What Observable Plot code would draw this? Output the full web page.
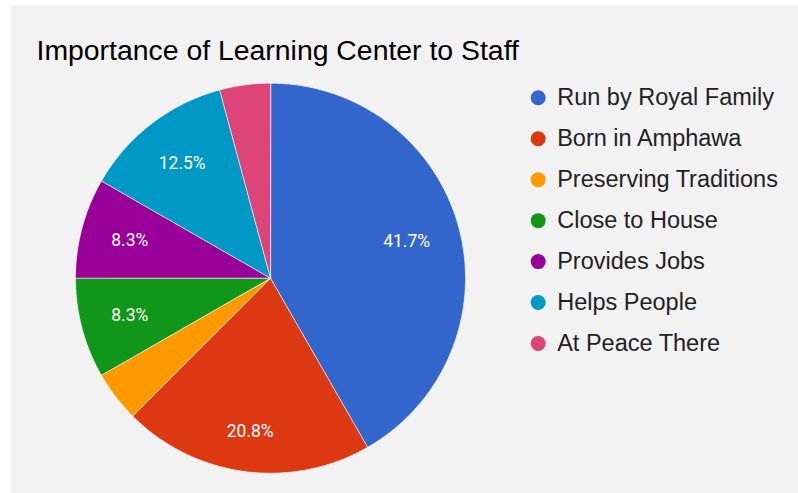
<!DOCTYPE html>
<html>
<head>
<meta charset="utf-8">
<script src="https://cdn.jsdelivr.net/npm/d3@7"></script>
<script src="https://cdn.jsdelivr.net/npm/@observablehq/plot@0.6"></script>
<style>
  html, body { margin: 0; padding: 0; background: #ffffff; }
  #wrap { position: relative; width: 798px; height: 493px; overflow: hidden; background: #ffffff; }
  #chart { position: absolute; left: 11px; top: 5px; width: 787px; height: 488px; background: #f2f2f2; }
  #chart svg { display: block; background: transparent; }
</style>
</head>
<body>
<div id="wrap"><div id="chart"></div></div>
<script>
// ---- data ----
const title = "Importance of Learning Center to Staff";
const categories = ["Run by Royal Family", "Born in Amphawa", "Preserving Traditions", "Close to House", "Provides Jobs", "Helps People", "At Peace There"];
const percents = [41.7, 20.8, 4.2, 8.3, 8.3, 12.5, 4.2];
const colors = ["#3366cc", "#dc3912", "#ff9900", "#109618", "#990099", "#0099c6", "#dd4477"];

// ---- layout ----
const W = 787, H = 488;
const cx = 259, cy = 272.7, R = 195;
const labelOuter = 0.85 * R;
const labelFont = 17.5, labelBoxH = 17;
const legendX = 526.7, legendY0 = 92.3, legendStep = 40.95;

const rows = categories.map((c, i) => ({category: c, value: percents[i]}));
const arcs = d3.pie().value(d => d.value).sort(null).startAngle(0).endAngle(2 * Math.PI)(rows);

const pt = (a, r) => [cx + r * Math.sin(a), cy - r * Math.cos(a)];

const slices = arcs.map(a => {
  const coords = [[cx, cy]];
  const n = Math.max(2, Math.ceil((a.endAngle - a.startAngle) / (Math.PI / 360)));
  for (let k = 0; k <= n; k++) {
    coords.push(pt(a.startAngle + (a.endAngle - a.startAngle) * k / n, R));
  }
  coords.push([cx, cy]);
  return {type: "Feature", properties: {category: a.data.category}, geometry: {type: "Polygon", coordinates: [coords]}};
});

const ctx = document.createElement("canvas").getContext("2d");
ctx.font = `${labelFont}px Roboto`;
const labels = arcs.filter(a => a.data.value >= 5).map(a => {
  const m = (a.startAngle + a.endAngle) / 2;
  const text = a.data.value.toFixed(1) + "%";
  const w = ctx.measureText(text).width;
  const d = labelOuter - (Math.abs(Math.sin(m)) * w / 2 + Math.abs(Math.cos(m)) * labelBoxH / 2);
  const [x, y] = pt(m, d);
  return {x, y, text};
});

const legend = categories.map((c, i) => ({category: c, x: legendX, y: legendY0 + i * legendStep}));

const chart = Plot.plot({
  width: W,
  height: H,
  margin: 0,
  projection: d3.geoIdentity(),
  color: {type: "ordinal", domain: categories, range: colors},
  style: {background: "transparent", fontFamily: "Arial, 'Liberation Sans', sans-serif"},
  marks: [
    Plot.geo(slices, {fill: d => d.properties.category, stroke: "#ffffff", strokeWidth: 0.8, strokeOpacity: 0.8}),
    Plot.text(labels, {x: "x", y: "y", text: "text", fill: "#ffffff", fontSize: labelFont, fontFamily: "Roboto, sans-serif", lineAnchor: "middle", textAnchor: "middle"}),
    Plot.dot(legend, {x: "x", y: "y", r: 7.5, fill: "category", stroke: null}),
    Plot.text(legend, {x: d => d.x + 19, y: "y", text: "category", fill: "#222222", fontSize: 23.5, textAnchor: "start", lineAnchor: "middle"}),
    Plot.text([title], {x: () => 25, y: () => 54.3, text: d => d, fill: "#000000", fontSize: 28.4, textAnchor: "start", lineAnchor: "bottom"})
  ]
});

document.getElementById("chart").appendChild(chart);
</script>
</body>
</html>
